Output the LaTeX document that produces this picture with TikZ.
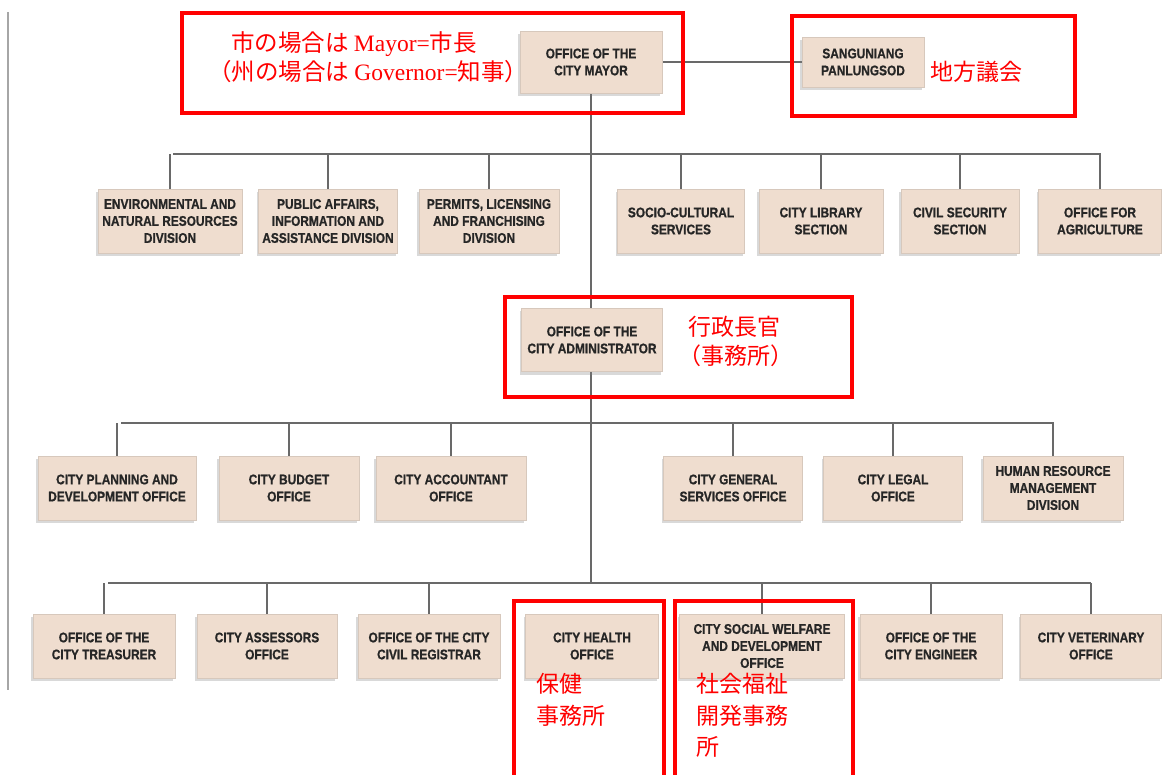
\documentclass[tikz,border=0pt]{standalone}
\usepackage{fontspec}
\setmainfont{Liberation Serif}
\newfontfamily\cjk{Noto Sans CJK JP}
\newfontfamily\bxf[FakeStretch=0.85, FakeBold=0.8]{Liberation Sans Bold}
\usetikzlibrary{shadows,backgrounds}
\definecolor{bxfill}{RGB}{239,221,207}
\definecolor{bxedge}{RGB}{215,200,188}
\definecolor{ln}{RGB}{105,105,105}
\begin{document}
\begin{tikzpicture}[x=1pt,y=-1pt,
  bx/.style={fill=bxfill, draw=bxedge, line width=0.5pt, align=center, inner sep=1pt,
    font=\bxf\fontsize{14}{17}\selectfont, text=black!85,
    drop shadow={shadow xshift=-2pt, shadow yshift=-3pt, opacity=0.3}},
  con/.style={draw=ln, line width=1.1pt},
  redbox/.style={draw=red, line width=3.5pt},
  jp/.style={text=red, font=\cjk\fontsize{23}{30}\selectfont, inner sep=0pt, anchor=west},
  jps/.style={jp, font=\cjk\fontsize{23.5}{28}\selectfont},
]
\useasboundingbox (0,0) rectangle (1172,775);

% bar coordinates
\coordinate (b1l) at (173,154); \coordinate (b1r) at (1101,154);
\coordinate (b2l) at (121,423); \coordinate (b2r) at (1054,423);
\coordinate (b3l) at (108,583); \coordinate (b3r) at (1091,583);

% top level
\node[bx, minimum width=142, minimum height=62] (mayor) at (591,62) {OFFICE OF THE\\CITY MAYOR};
\node[bx, minimum width=122, minimum height=50] (sang) at (863,62) {SANGUNIANG\\PANLUNGSOD};

% row 1
\node[bx, minimum width=144, minimum height=64] (e1) at (170,221) {ENVIRONMENTAL AND\\NATURAL RESOURCES\\DIVISION};
\node[bx, minimum width=139, minimum height=64] (e2) at (328,221) {PUBLIC AFFAIRS,\\INFORMATION AND\\ASSISTANCE DIVISION};
\node[bx, minimum width=140, minimum height=64] (e3) at (489,221) {PERMITS, LICENSING\\AND FRANCHISING\\DIVISION};
\node[bx, minimum width=127, minimum height=64] (e4) at (681,221) {SOCIO-CULTURAL\\SERVICES};
\node[bx, minimum width=124, minimum height=64] (e5) at (821,221) {CITY LIBRARY\\SECTION};
\node[bx, minimum width=118, minimum height=64] (e6) at (960,221) {CIVIL SECURITY\\SECTION};
\node[bx, minimum width=123, minimum height=64] (e7) at (1100,221) {OFFICE FOR\\AGRICULTURE};

% administrator
\node[bx, minimum width=141, minimum height=63] (admin) at (592,340) {OFFICE OF THE\\CITY ADMINISTRATOR};

% row 2
\node[bx, minimum width=158, minimum height=64] (p1) at (117,488) {CITY PLANNING AND\\DEVELOPMENT OFFICE};
\node[bx, minimum width=140, minimum height=64] (p2) at (289,488) {CITY BUDGET\\OFFICE};
\node[bx, minimum width=150, minimum height=64] (p3) at (451,488) {CITY ACCOUNTANT\\OFFICE};
\node[bx, minimum width=139, minimum height=64] (p4) at (733,488) {CITY GENERAL\\SERVICES OFFICE};
\node[bx, minimum width=139, minimum height=64] (p5) at (893,488) {CITY LEGAL\\OFFICE};
\node[bx, minimum width=140, minimum height=64] (p6) at (1053,488) {HUMAN RESOURCE\\MANAGEMENT\\DIVISION};

% row 3
\node[bx, minimum width=142, minimum height=64] (q1) at (104,646) {OFFICE OF THE\\CITY TREASURER};
\node[bx, minimum width=140, minimum height=64] (q2) at (267,646) {CITY ASSESSORS\\OFFICE};
\node[bx, minimum width=142, minimum height=64] (q3) at (429,646) {OFFICE OF THE CITY\\CIVIL REGISTRAR};
\node[bx, minimum width=133, minimum height=64] (q4) at (592,646) {CITY HEALTH\\OFFICE};
\node[bx, minimum width=165, minimum height=64] (q5) at (762,646) {CITY SOCIAL WELFARE\\AND DEVELOPMENT\\OFFICE};
\node[bx, minimum width=142, minimum height=64] (q6) at (931,646) {OFFICE OF THE\\CITY ENGINEER};
\node[bx, minimum width=141, minimum height=64] (q7) at (1091,646) {CITY VETERINARY\\OFFICE};

% connectors (behind boxes)
\begin{scope}[on background layer]
  \coordinate (lt) at (8,12);
  \coordinate (lb) at (8,690);
  \draw[draw=gray!70, line width=1.2pt] (lt) -- (lb);
  \draw[con] (mayor.south) -- (mayor.south |- b3l);
  \draw[con] (mayor.east) -- (sang.west);
  \draw[con] (b1l) -- (b1r);
  \draw[con] (b2l) -- (b2r);
  \draw[con] (b3l) -- (b3r);
  \foreach \n in {e1,e2,e3,e4,e5,e6,e7} \draw[con] (\n.north) -- (\n.north |- b1l);
  \foreach \n in {p1,p2,p3,p4,p5,p6} \draw[con] (\n.north) -- (\n.north |- b2l);
  \foreach \n in {q1,q2,q3,q5,q6,q7} \draw[con] (\n.north) -- (\n.north |- b3l);
\end{scope}

% red annotations
\draw[redbox] (182,13) rectangle (683,113);
\draw[redbox] (792,16) rectangle (1075,116);
\draw[redbox] (505,297) rectangle (852,397);
\draw[redbox] (514,775) -- (514,601) -- (664,601) -- (664,775);
\draw[redbox] (675,775) -- (675,601) -- (853,601) -- (853,775);

\node[jps] (j1) at (231,44) {市の場合は {\rmfamily Mayor=}市長};
\node[jps] (j2) at (208,72) {（州の場合は {\rmfamily Governor=}知事）};
\node[jp] (j3) at (930,72) {地方議会};
\node[jp] (j4) at (688,327) {行政長官};
\node[jp] (j5) at (678,356) {（事務所）};
\node[jp] (j6) at (536,684) {保健};
\node[jp] (j7) at (536,716) {事務所};
\node[jp] (j8) at (696,684) {社会福祉};
\node[jp] (j9) at (696,716) {開発事務};
\node[jp] (j10) at (696,747) {所};
\end{tikzpicture}
\end{document}
